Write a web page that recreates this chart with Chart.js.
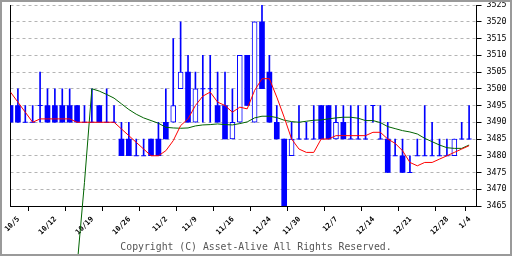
<!DOCTYPE html>
<html>
<head>
<meta charset="utf-8">
<script src="https://cdn.jsdelivr.net/npm/chart.js@4.4.1/dist/chart.umd.min.js"></script>
<style>
html, body { margin: 0; padding: 0; background: #fff; }
canvas { display: block; }
</style>
</head>
<body>
<canvas id="chart" width="512" height="256"></canvas>
<script>
// daily candles, one per trading day (10/5 .. 1/5)
const opens  = [3495,3495,3490,3490,3495,3495,3495,3495,3495,3495,3490,3490,3495,3490,3490,3485,3485,3480,3480,3485,
                3485,3490,3490,3500,3505,3490,3500,3500,3495,3495,3485,3490,3510,3490,3520,3505,3490,3485,3480,3485,
                3485,3485,3495,3495,3485,3490,3485,3485,3485,3495,3485,3485,3480,3480,3475,3480,3480,3480,3480,3480,
                3480,3485,3485];
const highs  = [3495,3500,3495,3495,3505,3500,3500,3500,3500,3495,3495,3500,3495,3500,3495,3490,3490,3485,3485,3485,
                3490,3500,3515,3520,3510,3505,3510,3510,3505,3505,3500,3510,3510,3520,3525,3510,3495,3485,3490,3495,
                3490,3495,3495,3495,3495,3495,3495,3495,3495,3495,3495,3490,3485,3485,3480,3485,3495,3490,3485,3485,
                3485,3490,3495];
const lows   = [3490,3490,3490,3490,3490,3490,3490,3490,3490,3490,3490,3490,3490,3490,3490,3480,3480,3480,3480,3480,
                3480,3485,3490,3500,3490,3490,3490,3490,3490,3485,3485,3490,3495,3490,3500,3490,3485,3465,3480,3485,
                3485,3485,3485,3485,3485,3485,3485,3485,3485,3490,3485,3475,3480,3475,3475,3480,3480,3480,3480,3480,
                3480,3485,3485];
const closes = [3490,3490,3490,3490,3495,3490,3490,3490,3490,3490,3490,3490,3490,3490,3490,3480,3480,3480,3480,3480,
                3480,3485,3495,3505,3490,3500,3500,3500,3490,3485,3490,3510,3495,3520,3500,3490,3485,3465,3485,3485,
                3485,3485,3485,3485,3490,3485,3485,3485,3485,3495,3485,3475,3480,3475,3475,3480,3480,3480,3480,3480,
                3485,3485,3485];

// moving averages (red = short, green = long)
const redMA = [3499,3496,3493,3490,3491,3491,3491,3491,3491,3490,3490,3490,3490,3490,3490,3488,3486,3484,3482,3480,
               3480,3481.5,3484.5,3489,3491,3495,3497.8,3499,3496,3495,3493,3494.5,3494,3499.5,3503,3503,3497.5,3491.5,3485,3482,
               3481,3481,3485,3485,3486,3486,3486,3486,3486,3487,3487,3485,3483.7,3481.5,3478,3477,3478,3478,3479,3480,
               3481,3482,3483];
const greenMA = [null,null,null,null,null,null,null,null,null,3447,3472,3500,3499.3,3498.3,3497.2,3495.5,3493.8,3492.4,3491.3,3490.5,
                 3489.7,3488.5,3488.3,3488.2,3488.3,3488.9,3489.2,3489.3,3489.5,3489.3,3489.2,3489.6,3490.1,3491.3,3491.8,3491.8,3491.4,3490.6,3490.2,3490,
                 3490.3,3490.6,3490.7,3491,3491.3,3491.5,3491.5,3491.2,3490.5,3490.5,3489.9,3488.7,3488.1,3487.5,3487.1,3486.5,3485.2,3484.2,3483.2,3482.4,
                 3482.2,3482.2,3483.2];

// tick marks every 5 bars, date labels at the first trading day of each week
const tickPos    = [0,5,10,15,20,25,30,35,40,45,50,55,60,63];
const labelPos   = [0,5,10,15,20,24,29,34,38,43,48,53,58,61];
const labelTexts = ['10/5','10/12','10/19','10/26','11/2','11/9','11/16','11/24','11/30','12/7','12/14','12/21','12/28','1/4'];

const yMin = 3465, yMax = 3525, yStep = 5;

const BLUE = '#0000ff';

let wicks = [], downBodies = [], upBodies = [], dojis = [];
for (let i = 0; i < opens.length; i++) {
    wicks.push({x: i, y: [lows[i], highs[i]]});
    if (closes[i] < opens[i]) {
        downBodies.push({x: i, y: [closes[i], opens[i]]});
    } else if (closes[i] > opens[i]) {
        upBodies.push({x: i, y: [opens[i], closes[i]]});
    } else {
        dojis.push({x: i, y: closes[i]});
    }
}
const redPts = redMA.map((v, i) => ({x: i, y: v}));
const greenPts = [];
greenMA.forEach((v, i) => { if (v !== null) greenPts.push({x: i, y: v}); });

const frame = {
    id: 'frame',
    afterDraw(chart) {
        const ctx = chart.ctx;
        ctx.save();
        ctx.font = '9.8px "DejaVu Sans Mono", monospace';
        ctx.fillStyle = '#555';
        ctx.textAlign = 'center';
        ctx.textBaseline = 'alphabetic';
        ctx.fillText('Copyright (C) Asset-Alive All Rights Reserved.', 256, 249.5);
        ctx.strokeStyle = '#9a9a9a';
        ctx.lineWidth = 2;
        ctx.strokeRect(1, 1, 510, 254);
        ctx.restore();
    }
};

new Chart(document.getElementById('chart'), {
    type: 'bar',
    data: {
        datasets: [
            {type: 'line', data: redPts, borderColor: '#ff0000', borderWidth: 1, pointRadius: 0, tension: 0, order: 0, yAxisID: 'y'},
            {type: 'line', data: greenPts, borderColor: '#006400', borderWidth: 1, pointRadius: 0, tension: 0, order: 1, clip: false, yAxisID: 'y'},
            {type: 'scatter', data: dojis, pointStyle: 'line', radius: 2.5, borderColor: BLUE, borderWidth: 1, order: 2, yAxisID: 'y'},
            {data: upBodies, backgroundColor: '#fff', borderColor: BLUE, borderWidth: 1, borderSkipped: false, barThickness: 5, grouped: false, order: 3, yAxisID: 'y'},
            {data: downBodies, backgroundColor: BLUE, borderWidth: 0, barThickness: 5, grouped: false, order: 3, yAxisID: 'y'},
            {data: wicks, backgroundColor: BLUE, borderWidth: 0, barThickness: 1, grouped: false, order: 4, yAxisID: 'y'}
        ]
    },
    options: {
        responsive: false,
        devicePixelRatio: 1,
        animation: false,
        layout: {padding: {left: 10.5, top: 5, right: 0, bottom: 0}},
        plugins: {legend: {display: false}, tooltip: {enabled: false}},
        scales: {
            x: {
                type: 'linear',
                weight: 0,
                min: 0,
                max: 63,
                offset: false,
                afterBuildTicks: (axis) => { axis.ticks = tickPos.map(v => ({value: v})); },
                afterFit: (axis) => { axis.height = 5; axis.paddingLeft = 0; axis.paddingRight = 0; },
                ticks: {display: false, autoSkip: false},
                grid: {drawOnChartArea: false, drawTicks: true, tickLength: 5, tickColor: '#000'},
                border: {color: '#000', width: 1}
            },
            xl: {
                type: 'linear',
                position: 'bottom',
                weight: 1,
                min: 0,
                max: 63,
                offset: false,
                afterBuildTicks: (axis) => { axis.ticks = labelPos.map(v => ({value: v})); },
                afterFit: (axis) => { axis.height = 45; axis.paddingLeft = 0; axis.paddingRight = 0; },
                ticks: {
                    autoSkip: false,
                    minRotation: 45,
                    maxRotation: 45,
                    padding: 4,
                    labelOffset: 8,
                    color: '#000',
                    font: {family: '"DejaVu Sans Mono", monospace', size: 7.3, weight: 'bold'},
                    callback: (v) => labelTexts[labelPos.indexOf(v)]
                },
                grid: {display: false, drawTicks: false},
                border: {display: false}
            },
            y: {
                position: 'right',
                min: yMin,
                max: yMax,
                beginAtZero: false,
                afterBuildTicks: (axis) => {
                    let t = [];
                    for (let v = yMin; v <= yMax; v += yStep) t.push({value: v});
                    axis.ticks = t;
                },
                afterFit: (axis) => { axis.width = 35.5; axis.paddingTop = 0; axis.paddingBottom = 0; },
                ticks: {
                    padding: 5,
                    color: '#000',
                    font: {family: '"DejaVu Sans Mono", monospace', size: 8.3},
                    callback: (v) => String(v)
                },
                grid: {
                    color: (c) => (c.tick && c.tick.value === yMin) ? 'rgba(0,0,0,0)' : '#b4b4b4',
                    tickColor: '#000',
                    tickLength: 5,
                    tickBorderDash: []
                },
                border: {color: '#000', width: 1, dash: [3, 3]}
            },
            yl: {
                position: 'left',
                min: yMin,
                max: yMax,
                ticks: {display: false},
                grid: {drawOnChartArea: false, drawTicks: false},
                border: {color: '#000', width: 1},
                afterFit: (axis) => { axis.width = 0; axis.paddingTop = 0; axis.paddingBottom = 0; }
            }
        }
    },
    plugins: [frame]
});
</script>
</body>
</html>
